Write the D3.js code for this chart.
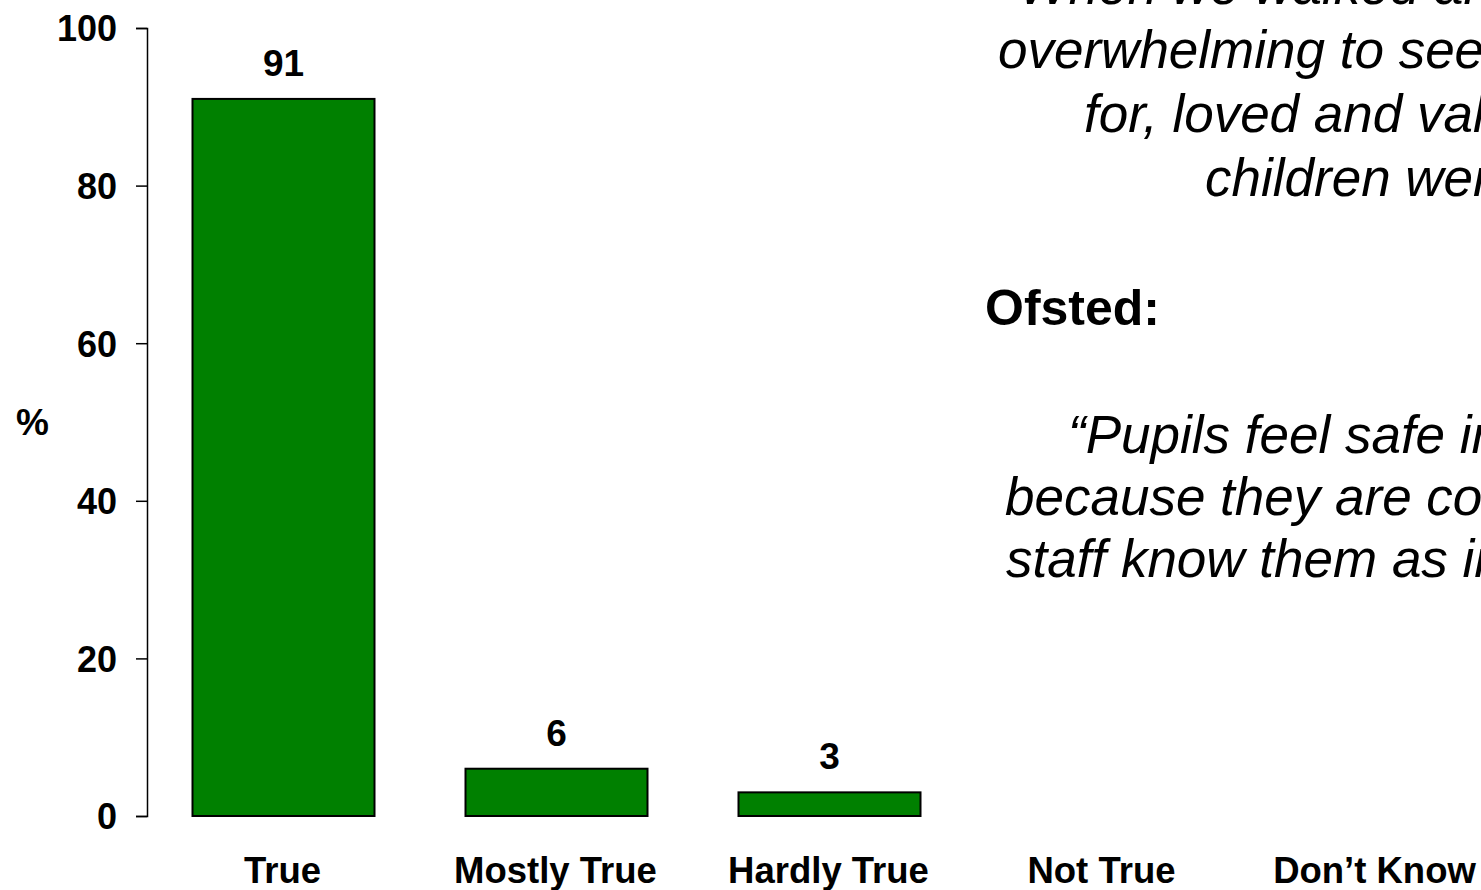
<!DOCTYPE html>
<html>
<head>
<meta charset="utf-8">
<script src="https://cdn.jsdelivr.net/npm/d3@7"></script>
<style>
  html, body { margin: 0; padding: 0; background: #fff; overflow: hidden; }
  svg { display: block; }
</style>
</head>
<body>
<svg id="chart" width="1481" height="890"></svg>
<script>
const categories = ["True", "Mostly True", "Hardly True", "Not True", "Don\u2019t Know"];
const values = [91, 6, 3, 0, 0];
const yTicks = [0, 20, 40, 60, 80, 100];
const axisTitle = "%";
const quoteLines1 = ["\u201CWhen we walked around", "overwhelming to see how", "for, loved and valued", "children were"];
const heading = "Ofsted:";
const quoteLines2 = ["\u201CPupils feel safe in school", "because they are confident", "staff know them as individuals\u201D"];

const svg = d3.select("#chart");
const font = "'Liberation Sans', Arial, sans-serif";

const x = d3.scaleBand().domain(categories).range([147, 1512]).paddingInner(1/3).paddingOuter(1/6);
const y = d3.scaleLinear().domain([0, 100]).range([816, 28]);

// y axis
const yAxis = svg.append("g").attr("transform", "translate(147,0)")
  .call(d3.axisLeft(y).tickValues(yTicks).tickSize(11).tickPadding(19));
yAxis.select(".domain").attr("stroke", "#000").attr("stroke-width", 1.5);
yAxis.selectAll(".tick line").attr("stroke", "#000").attr("stroke-width", 1.5);
yAxis.selectAll(".tick text")
  .attr("font-family", font).attr("font-weight", "bold").attr("font-size", 36)
  .attr("fill", "#000").attr("dy", "0.36em");

// bars
const data = categories.map((c, i) => ({ c, v: values[i] }));
svg.append("g").selectAll("rect").data(data.filter(d => d.v > 0)).join("rect")
  .attr("x", d => x(d.c)).attr("width", x.bandwidth())
  .attr("y", d => y(d.v)).attr("height", d => y(0) - y(d.v))
  .attr("fill", "#008000").attr("stroke", "#000").attr("stroke-width", 2);

// value labels
svg.append("g").selectAll("text").data(data.filter(d => d.v > 0)).join("text")
  .attr("x", d => x(d.c) + x.bandwidth() / 2).attr("y", d => y(d.v) - 23)
  .attr("text-anchor", "middle")
  .attr("font-family", font).attr("font-weight", "bold").attr("font-size", 37)
  .text(d => d.v);

// category labels
svg.append("g").selectAll("text").data(categories).join("text")
  .attr("x", d => x(d) + x.bandwidth() / 2 - 1).attr("y", 883)
  .attr("text-anchor", "middle")
  .attr("font-family", font)
  .attr("font-weight", "bold").attr("font-size", 36.5)
  .text(d => d);

// axis title
svg.append("text").attr("x", 16).attr("y", 435)
  .attr("font-family", font).attr("font-weight", "bold").attr("font-size", 37)
  .text(axisTitle);

// right-hand text
const starts1 = [1001, 998, 1084, 1205];
svg.append("g").selectAll("text").data(quoteLines1).join("text")
  .attr("x", (d, i) => starts1[i]).attr("y", (d, i) => 4 + i * 64)
  .attr("font-family", font).attr("font-style", "italic").attr("font-size", 53)
  .text(d => d);

svg.append("text").attr("x", 985).attr("y", 325)
  .attr("font-family", font).attr("font-weight", "bold").attr("font-size", 50)
  .text(heading);

const starts2 = [1068, 1005, 1006];
svg.append("g").selectAll("text").data(quoteLines2).join("text")
  .attr("x", (d, i) => starts2[i]).attr("y", (d, i) => 453 + i * 62)
  .attr("font-family", font).attr("font-style", "italic").attr("font-size", 53)
  .text(d => d);
</script>
</body>
</html>
